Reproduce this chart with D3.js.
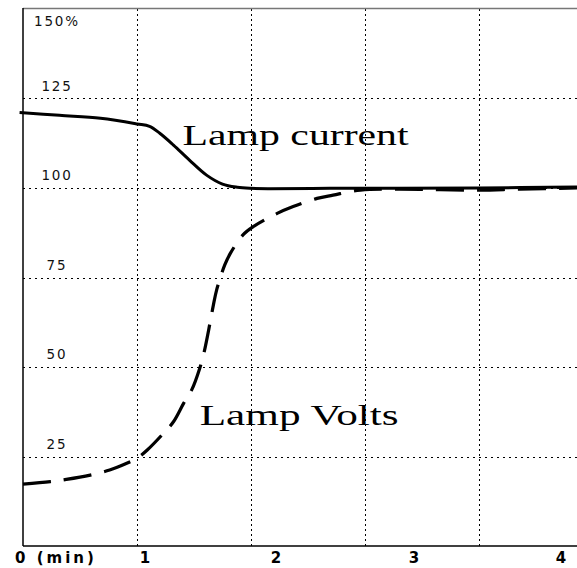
<!DOCTYPE html>
<html><head><meta charset="utf-8">
<script src="https://cdn.jsdelivr.net/npm/d3@7"></script>
<style>html,body{margin:0;padding:0;background:#fff;}svg{display:block;}</style>
</head><body>
<script>
// x in minutes (gridlines at whole minutes), y in percent
const gridX = [1, 2, 3, 4];
const gridY = [25, 50, 75, 100, 125];
const yLabels = ["25", "50", "75", "100", "125", "150%"];
const yLabelValues = [25, 50, 75, 100, 125, 150];
const xLabels = ["0 (min)", "1", "2", "3", "4"];
const xLabelAt = [0, 1.07, 2.22, 3.43, 4.72];

const currentT = [-0.03, 0.32, 0.68, 1.0, 1.11, 1.20, 1.32, 1.46, 1.61, 1.75, 1.88, 1.99, 2.17, 2.69, 3.3, 4.0, 4.86];
const currentV = [121.1, 120.3, 119.5, 117.9, 117.2, 115.3, 112.0, 107.8, 103.6, 101.1, 100.2, 99.9, 99.8, 99.9, 99.9, 100.0, 100.3];

const voltsT = [0, 0.24, 0.38, 0.59, 0.76, 0.91, 1.0, 1.09, 1.23, 1.32, 1.41, 1.48, 1.55, 1.59, 1.64, 1.67, 1.70, 1.77, 1.82, 1.93, 2.02, 2.23, 2.37, 2.58, 2.72, 2.96, 3.48, 4.0, 4.36, 4.86];
const voltsV = [17.3, 18.0, 18.6, 19.8, 21.2, 23.1, 24.5, 26.8, 31.4, 34.7, 39.9, 43.6, 49.6, 54.3, 62.2, 67.3, 71.7, 78.5, 81.8, 86.9, 89.2, 92.9, 94.8, 97.1, 98.0, 99.4, 99.6, 99.4, 99.7, 100.0];

const seriesLabels = [
  {text: "Lamp current", t: 1.40, v: 112.0, len: 226},
  {text: "Lamp Volts", t: 1.55, v: 33.8, len: 199}
];

const W = 577, H = 568;
const x = d3.scaleLinear().domain([0, 4.86]).range([23, 577]);
const y = d3.scaleLinear().domain([0, 150]).range([546, 9]);

const svg = d3.select("body").append("svg").attr("width", W).attr("height", H);
svg.append("rect").attr("width", W).attr("height", H).attr("fill", "#fff");

// gridlines
svg.append("g").selectAll("line").data(gridY).join("line")
  .attr("x1", x(0)).attr("x2", W)
  .attr("y1", d => Math.round(y(d)) + 0.5).attr("y2", d => Math.round(y(d)) + 0.5)
  .attr("stroke", "#000").attr("stroke-width", 1).attr("stroke-dasharray", "2,4");
svg.append("g").selectAll("line").data(gridX).join("line")
  .attr("x1", d => Math.round(x(d)) + 0.5).attr("x2", d => Math.round(x(d)) + 0.5)
  .attr("y1", y(150)).attr("y2", y(0))
  .attr("stroke", "#000").attr("stroke-width", 1).attr("stroke-dasharray", "2,3");

// frame
svg.append("line").attr("x1", x(0)).attr("x2", W).attr("y1", y(150) - 0.5).attr("y2", y(150) - 0.5)
  .attr("stroke", "#777").attr("stroke-width", 1.5);
svg.append("line").attr("x1", x(0)).attr("x2", x(0)).attr("y1", y(150) - 1).attr("y2", y(0))
  .attr("stroke", "#000").attr("stroke-width", 1.5);
svg.append("line").attr("x1", x(0)).attr("x2", W).attr("y1", y(0)).attr("y2", y(0))
  .attr("stroke", "#000").attr("stroke-width", 1.5);

// y labels
svg.append("g").selectAll("text").data(yLabelValues).join("text")
  .attr("x", 57)
  .attr("y", (d) => d === 150 ? y(d) + 17 : y(d) - 8)
  .attr("text-anchor", "middle")
  .attr("font-family", "DejaVu Sans, sans-serif")
  .attr("font-size", 13.5).attr("letter-spacing", 1.8).attr("fill", "#111")
  .text((d, i) => yLabels[i]);

// x labels
svg.append("g").selectAll("text").data(xLabels).join("text")
  .attr("x", (d, i) => i === 0 ? 15 : x(xLabelAt[i]))
  .attr("y", 563)
  .attr("text-anchor", (d, i) => i === 0 ? "start" : "middle")
  .attr("font-family", "DejaVu Sans, sans-serif")
  .attr("font-weight", "bold")
  .attr("font-size", 15).attr("letter-spacing", (d, i) => i === 0 ? 3 : 0).attr("fill", "#000")
  .text(d => d);

// lines
const line = d3.line().x(d => x(d[0])).y(d => y(d[1])).curve(d3.curveCatmullRom.alpha(0.5));
svg.append("path").datum(currentT.map((t, i) => [t, currentV[i]]))
  .attr("d", line).attr("fill", "none").attr("stroke", "#000").attr("stroke-width", 3);
svg.append("path").datum(voltsT.map((t, i) => [t, voltsV[i]]))
  .attr("d", line).attr("fill", "none").attr("stroke", "#000").attr("stroke-width", 3.2)
  .attr("stroke-dasharray", "28,13");

// series labels
svg.append("g").selectAll("text").data(seriesLabels).join("text")
  .attr("x", d => x(d.t)).attr("y", d => y(d.v))
  .attr("font-family", "Liberation Serif, Times New Roman, serif")
  .attr("font-size", 29).attr("fill", "#000")
  .attr("textLength", d => d.len).attr("lengthAdjust", "spacingAndGlyphs")
  .text(d => d.text);
</script>
</body></html>
